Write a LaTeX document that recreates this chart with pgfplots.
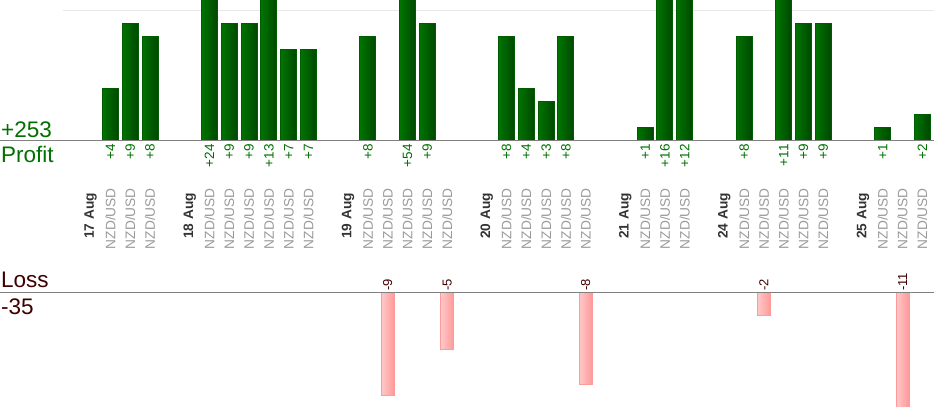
\documentclass[border=0pt]{standalone}
\usepackage{pgfplots}
\pgfplotsset{compat=1.18}
\usepackage{pgfplotstable}
\usepackage{fontspec}
\setmainfont{Liberation Sans}
\definecolor{pgreen}{HTML}{007000}
\definecolor{barL}{HTML}{007400}
\definecolor{barR}{HTML}{004800}
\definecolor{barB}{HTML}{005C00}
\definecolor{lossL}{HTML}{FFC8C8}
\definecolor{lossR}{HTML}{FF9999}
\definecolor{lossB}{HTML}{FF9A9A}
\definecolor{ltxt}{HTML}{3D0000}
\definecolor{catgray}{HTML}{9A9A9A}
\definecolor{dategray}{HTML}{333333}
\definecolor{basegray}{HTML}{808080}
\definecolor{gridc}{HTML}{E8E8E8}

\pgfplotstableread{
x y
1 4
2 9
3 8
6 24
7 9
8 9
9 13
10 7
11 7
14 8
16 54
17 9
21 8
22 4
23 3
24 8
28 1
29 16
30 12
33 8
35 11
36 9
37 9
40 1
42 2
}\profit

\pgfplotstableread{
x y
15 -9
18 -5
25 -8
34 -2
41 -11
}\loss

\newcommand\N{\textcolor{catgray}{NZD/USD}}
\newcommand\D[1]{\textcolor{dategray}{\bfseries #1}\kern5bp}

\begin{document}
\begin{tikzpicture}
% ---------- profit axis ----------
\begin{axis}[
  at={(0bp,272.5bp)}, anchor=south west,
  scale only axis, width=934bp, height=147.5bp,
  xmin=-4.58, xmax=42.59, ymin=-0.5, ymax=10.846,
  axis line style={draw=none}, major tick length=0pt,
  ytick=\empty,
  xtick={0,...,42},
  xticklabels={\D{17 Aug},\N,\N,\N,{},\D{18 Aug},\N,\N,\N,\N,\N,\N,{},
    \D{19 Aug},\N,\N,\N,\N,\N,{},\D{20 Aug},\N,\N,\N,\N,\N,{},
    \D{21 Aug},\N,\N,\N,{},\D{24 Aug},\N,\N,\N,\N,\N,{},\D{25 Aug},\N,\N,\N},
  xticklabel style={inner sep=0pt, yshift=-40.5bp, rotate=90, anchor=east,
    font=\fontsize{13.7bp}{16bp}\selectfont},
  /pgf/number format/assume math mode=true,
  clip=true,
]
\addplot[gridc, line width=1bp] coordinates {(-1.4,10) (43,10)};
\pgfplotsinvokeforeach{0,...,24}{
  \addplot[ybar, bar width=16bp, bar shift=0pt, draw=barB, line width=1bp,
    left color=barL, right color=barR,
    x filter/.code={\ifnum\coordindex=#1\relax\else\def\pgfmathresult{}\fi}]
    table[x=x,y=y] {\profit};
}
\addplot[basegray, line width=1bp] coordinates {(-5,0) (43,0)};
\addplot[draw=none, mark=none, point meta=explicit,
  nodes near coords={+\pgfmathprintnumber{\pgfplotspointmeta}},
  every node near coord/.append style={inner sep=0pt, yshift=-3bp, rotate=90,
    anchor=east, text=pgreen, font=\fontsize{13.5bp}{16bp}\selectfont}]
  table[x=x, y expr=0, meta=y] {\profit};
\end{axis}
% ---------- loss axis ----------
\begin{axis}[
  at={(0bp,13.85bp)}, anchor=south west,
  scale only axis, width=934bp, height=119.6bp,
  xmin=-4.58, xmax=42.59, ymin=-9.9, ymax=0.5,
  axis line style={draw=none}, major tick length=0pt,
  ytick=\empty, xtick=\empty,
  /pgf/number format/assume math mode=true,
  clip=true,
]
\pgfplotsinvokeforeach{0,...,4}{
  \addplot[ybar, bar width=13bp, bar shift=0pt, draw=lossB, line width=1bp,
    left color=lossL, right color=lossR,
    x filter/.code={\ifnum\coordindex=#1\relax\else\def\pgfmathresult{}\fi}]
    table[x=x,y=y] {\loss};
}
\addplot[basegray, line width=1bp] coordinates {(-5,0) (43,0)};
\addplot[draw=none, mark=none, point meta=explicit,
  nodes near coords={-\pgfmathprintnumber{\pgfplotspointmeta}},
  every node near coord/.append style={inner sep=0pt, yshift=1.5bp, rotate=90,
    anchor=west, text=ltxt, font=\fontsize{13bp}{15bp}\selectfont}]
  table[x=x, y expr=0, meta expr=-\thisrow{y}] {\loss};
\end{axis}
% ---------- side texts ----------
\node[anchor=base west, inner sep=0pt, text=pgreen, font=\fontsize{22.5bp}{26bp}\selectfont] at (1bp,282bp) {+253};
\node[anchor=base west, inner sep=0pt, text=pgreen, font=\fontsize{22.5bp}{26bp}\selectfont] at (1bp,257bp) {Profit};
\node[anchor=base west, inner sep=0pt, text=ltxt, font=\fontsize{22.5bp}{26bp}\selectfont] at (1bp,132bp) {Loss};
\node[anchor=base west, inner sep=0pt, text=ltxt, font=\fontsize{22.5bp}{26bp}\selectfont] at (1bp,105bp) {-35};
\pgfresetboundingbox
\path[use as bounding box] (0bp,0bp) rectangle (934bp,420bp);
\end{tikzpicture}
\end{document}
